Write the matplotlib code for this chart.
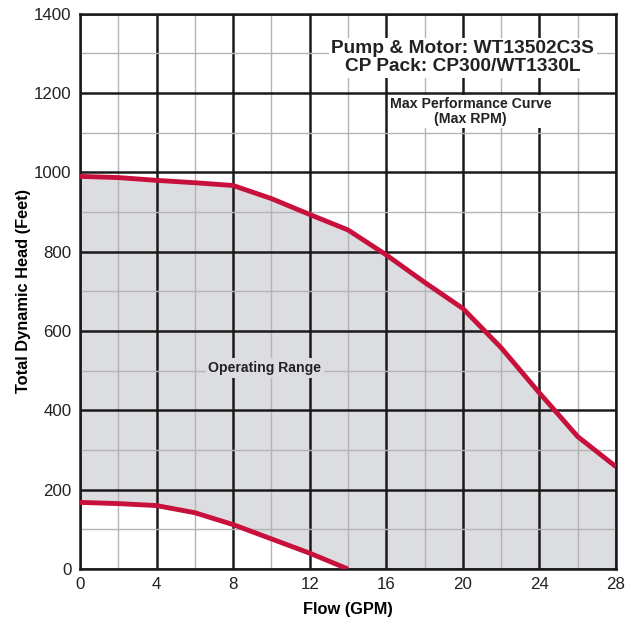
import numpy as np
import matplotlib.pyplot as plt

plt.rcParams['font.family'] = ['Liberation Sans', 'DejaVu Sans']

# max performance curve (max RPM)
flow_max = [0, 2, 4, 6, 8, 10, 12, 14, 16, 18, 20, 22, 24, 26, 28]
head_max = [990, 987, 980, 974, 967, 934, 894, 855, 792, 723, 657, 558, 444, 334, 258]

# minimum curve
flow_min = [0, 2, 4, 6, 8, 10, 12, 14]
head_min = [168, 165, 160, 142, 112, 76, 40, 0]

red = '#c8103c'
shade = '#dcdde0'

fig = plt.figure(figsize=(6.35, 6.26), dpi=100)
ax = fig.add_axes([0.126, 0.091, 0.844, 0.887])

# shade the operating range between the two curves
lower = np.interp(flow_max, flow_min, head_min, right=0)
ax.fill_between(flow_max, lower, head_max, color=shade, lw=0, zorder=0)

ax.set_xlim(0, 28)
ax.set_ylim(0, 1400)
ax.set_xticks(range(0, 29, 4))
ax.set_yticks(range(0, 1401, 200))
ax.set_xticks(range(0, 29, 2), minor=True)
ax.set_yticks(range(0, 1401, 100), minor=True)
ax.grid(which='minor', color='#b4b4b4', lw=1.0, zorder=1)
ax.grid(which='major', color='#1a1a1a', lw=1.8, zorder=2)
ax.set_axisbelow(False)
ax.tick_params(which='both', length=0, labelsize=12.2, colors='#222222', pad=6)
for s in ax.spines.values():
    s.set_linewidth(1.8)
    s.set_color('#1a1a1a')
    s.set_zorder(3)

ax.plot(flow_max, head_max, color=red, lw=3.5, zorder=4, solid_capstyle='butt')
ax.plot(flow_min, head_min, color=red, lw=3.5, zorder=4, solid_capstyle='butt')

ax.set_xlabel('Flow (GPM)', fontsize=11.8, fontweight='bold', labelpad=7)
ax.set_ylabel('Total Dynamic Head (Feet)', fontsize=11.8, fontweight='bold', labelpad=2)

ax.text(20, 1289, 'Pump & Motor: WT13502C3S\nCP Pack: CP300/WT1330L',
        ha='center', va='center', fontsize=13.8, fontweight='bold', color='#222222',
        linespacing=1.05, zorder=5,
        bbox=dict(facecolor='white', edgecolor='none', pad=2))
ax.text(20.4, 1153, 'Max Performance Curve\n(Max RPM)',
        ha='center', va='center', fontsize=10.2, fontweight='bold', color='#222222',
        linespacing=1.05, zorder=5,
        bbox=dict(facecolor='white', edgecolor='none', pad=1.5))
ax.text(9.66, 507, 'Operating Range',
        ha='center', va='center', fontsize=10.1, fontweight='bold', color='#222222',
        zorder=5, bbox=dict(facecolor=shade, edgecolor='none', pad=2))

plt.savefig('out.png', dpi=100)
